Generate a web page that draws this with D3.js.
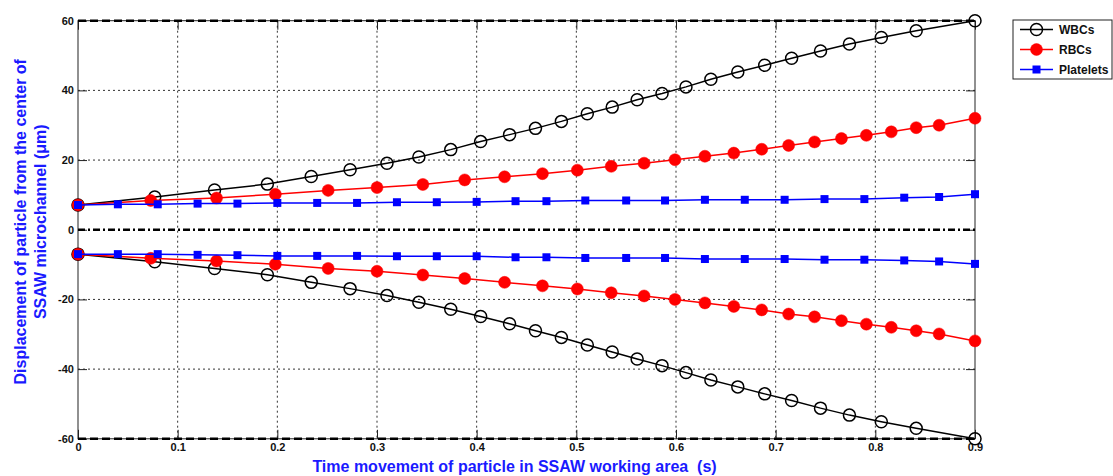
<!DOCTYPE html>
<html>
<head>
<meta charset="utf-8">
<script src="https://cdn.jsdelivr.net/npm/d3@7"></script>
<style>
  body { margin: 0; background: #fff; }
  svg { display: block; font-family: "Liberation Sans", Arial, sans-serif; }
</style>
</head>
<body>
<script>
// time points (s) and displacements (um)
const timesWBC = [0, 0.077, 0.137, 0.190, 0.234, 0.273, 0.310, 0.342, 0.374, 0.404, 0.433, 0.459, 0.485, 0.511,
  0.536, 0.561, 0.586, 0.610, 0.635, 0.662, 0.689, 0.716, 0.745, 0.774, 0.806, 0.841, 0.900];
const wbcUpper = [7.1, 9.4, 11.4, 13.1, 15.3, 17.2, 19.1, 20.9, 23.0, 25.3, 27.3, 29.1, 31.1, 33.3,
  35.2, 37.3, 39.1, 41.0, 43.2, 45.3, 47.2, 49.2, 51.3, 53.3, 55.2, 57.1, 60.0];
const wbcLower = [-7.0, -9.2, -11.1, -12.9, -15.1, -16.9, -18.9, -20.8, -22.8, -24.9, -27.0, -29.0, -30.9, -33.1,
  -35.1, -37.1, -39.0, -41.0, -43.1, -45.1, -47.1, -49.0, -51.2, -53.2, -55.1, -57.0, -60.0];

const timesRBC = [0, 0.073, 0.139, 0.198, 0.251, 0.300, 0.346, 0.388, 0.428, 0.466, 0.501, 0.535, 0.568,
  0.599, 0.629, 0.658, 0.686, 0.713, 0.739, 0.766, 0.791, 0.816, 0.841, 0.864, 0.900];
const rbcUpper = [7.1, 8.4, 9.1, 10.2, 11.3, 12.1, 13.0, 14.3, 15.2, 16.1, 17.1, 18.2, 19.1,
  20.1, 21.1, 22.0, 23.1, 24.2, 25.2, 26.2, 27.1, 28.1, 29.3, 30.0, 32.0];
const rbcLower = [-7.0, -8.2, -9.0, -9.9, -11.1, -11.9, -13.0, -14.0, -15.1, -16.1, -17.0, -18.1, -19.0,
  -20.0, -21.0, -22.0, -23.0, -24.2, -25.0, -26.1, -27.1, -28.0, -29.0, -29.9, -31.9];

const timesPlt = [0, 0.040, 0.080, 0.120, 0.160, 0.200, 0.240, 0.280, 0.320, 0.360, 0.400, 0.439,
  0.470, 0.509, 0.550, 0.589, 0.629, 0.669, 0.709, 0.749, 0.789, 0.829, 0.864, 0.900];
const pltUpper = [7.1, 7.3, 7.3, 7.5, 7.5, 7.7, 7.7, 7.7, 7.9, 7.9, 8.0, 8.2,
  8.2, 8.4, 8.4, 8.4, 8.6, 8.6, 8.6, 8.8, 8.8, 9.2, 9.4, 10.2];
const pltLower = [-7.0, -7.0, -7.0, -7.2, -7.3, -7.5, -7.5, -7.5, -7.6, -7.6, -7.6, -7.9,
  -7.9, -8.1, -8.1, -8.1, -8.4, -8.4, -8.4, -8.6, -8.6, -8.8, -9.1, -9.8];

const xTicks = [0, 0.1, 0.2, 0.3, 0.4, 0.5, 0.6, 0.7, 0.8, 0.9];
const yTicks = [-60, -40, -20, 0, 20, 40, 60];
const legendNames = ['WBCs', 'RBCs', 'Platelets'];

const width = 1113;
const height = 476;
const margin = { top: 20.7, bottom: 37.2, right: 138, left: 78 };

const svg = d3.select('body')
  .append('svg')
  .attr('width', width)
  .attr('height', height);

const x = d3.scaleLinear()
  .domain([0, 0.9])
  .range([margin.left, width - margin.right]);

const y = d3.scaleLinear()
  .domain([-60, 60])
  .range([height - margin.bottom, margin.top]);

// grid
const grid = svg.append('g')
  .attr('stroke', '#333')
  .attr('stroke-width', 1)
  .attr('stroke-dasharray', '2,3');
grid.selectAll('.gx')
  .data(xTicks.slice(1, -1))
  .join('line')
  .attr('x1', d => x(d)).attr('x2', d => x(d))
  .attr('y1', margin.top).attr('y2', height - margin.bottom);
grid.selectAll('.gy')
  .data(yTicks.filter(d => Math.abs(d) !== 60 && d !== 0))
  .join('line')
  .attr('x1', margin.left).attr('x2', width - margin.right)
  .attr('y1', d => y(d)).attr('y2', d => y(d));

// axes, ticks pointing inward
const fmtX = d => d === 0 ? '0' : d3.format('.1f')(d);
const fmtY = d => String(d);
const styleAxis = g => {
  g.select('.domain').remove();
  g.selectAll('line').attr('stroke', '#222');
  g.selectAll('text')
    .style('font-size', '11px')
    .style('font-weight', 'bold')
    .attr('fill', '#111');
};

svg.append('g')
  .attr('transform', `translate(0, ${height - margin.bottom})`)
  .call(d3.axisBottom(x).tickValues(xTicks).tickFormat(fmtX).tickSize(-9).tickPadding(4))
  .call(styleAxis);
svg.append('g')
  .attr('transform', `translate(0, ${margin.top})`)
  .call(d3.axisTop(x).tickValues(xTicks).tickFormat('').tickSize(-9))
  .call(styleAxis);
svg.append('g')
  .attr('transform', `translate(${margin.left}, 0)`)
  .call(d3.axisLeft(y).tickValues(yTicks).tickFormat(fmtY).tickSize(-9).tickPadding(4))
  .call(styleAxis);
svg.append('g')
  .attr('transform', `translate(${width - margin.right}, 0)`)
  .call(d3.axisRight(y).tickValues(yTicks).tickFormat('').tickSize(-9))
  .call(styleAxis);

// box
svg.append('rect')
  .attr('x', margin.left)
  .attr('y', margin.top)
  .attr('width', width - margin.left - margin.right)
  .attr('height', height - margin.top - margin.bottom)
  .attr('fill', 'none')
  .attr('stroke', '#222')
  .attr('stroke-width', 1);

// channel walls (+-60) and centre line
svg.selectAll('.wall')
  .data([60, -60])
  .join('line')
  .attr('x1', margin.left).attr('x2', width - margin.right)
  .attr('y1', d => y(d)).attr('y2', d => y(d))
  .attr('stroke', '#000')
  .attr('stroke-width', 2.5)
  .attr('stroke-dasharray', '8,4');
svg.append('line')
  .attr('x1', margin.left).attr('x2', width - margin.right)
  .attr('y1', y(0)).attr('y2', y(0))
  .attr('stroke', '#000')
  .attr('stroke-width', 2.5)
  .attr('stroke-dasharray', '7,3,2,3');

// series
const line = d3.line().x(d => x(d[0])).y(d => y(d[1]));
const zipSeries = (ts, vs) => ts.map((t, i) => [t, vs[i]]);

const series = [
  { name: 'WBCs', color: '#000', pts: [zipSeries(timesWBC, wbcUpper), zipSeries(timesWBC, wbcLower)] },
  { name: 'RBCs', color: '#ff0000', pts: [zipSeries(timesRBC, rbcUpper), zipSeries(timesRBC, rbcLower)] },
  { name: 'Platelets', color: '#0000ff', pts: [zipSeries(timesPlt, pltUpper), zipSeries(timesPlt, pltLower)] }
];

function drawMarker(sel, name) {
  if (name === 'WBCs') {
    sel.append('circle').attr('r', 6).attr('fill', 'none').attr('stroke', '#000').attr('stroke-width', 1.5);
  } else if (name === 'RBCs') {
    sel.append('circle').attr('r', 6).attr('fill', '#ff0000').attr('stroke', '#ff0000').attr('stroke-width', 0.5);
  } else {
    sel.append('rect').attr('x', -4).attr('y', -4).attr('width', 8).attr('height', 8).attr('fill', '#0000ff');
  }
}

series.forEach(s => {
  s.pts.forEach(pts => {
    svg.append('path')
      .datum(pts)
      .attr('d', line)
      .attr('fill', 'none')
      .attr('stroke', s.color)
      .attr('stroke-width', 1.5);
    svg.append('g')
      .selectAll('g')
      .data(pts)
      .join('g')
      .attr('transform', d => `translate(${x(d[0])}, ${y(d[1])})`)
      .each(function() { drawMarker(d3.select(this), s.name); });
  });
});

// legend
const legend = svg.append('g').attr('transform', 'translate(1013, 20)');
legend.append('rect')
  .attr('width', 99).attr('height', 59)
  .attr('fill', '#fff').attr('stroke', '#222').attr('stroke-width', 1);
legendNames.forEach((name, i) => {
  const s = series.find(d => d.name === name);
  const row = legend.append('g').attr('transform', `translate(0, ${9.5 + i * 20})`);
  row.append('line')
    .attr('x1', 7).attr('x2', 40)
    .attr('stroke', s.color).attr('stroke-width', 1.5);
  drawMarker(row.append('g').attr('transform', 'translate(23.5, 0)'), name);
  row.append('text')
    .attr('x', 46).attr('dy', '0.35em')
    .style('font-size', '12px')
    .style('font-weight', 'bold')
    .attr('fill', '#111')
    .text(name);
});

// axis titles
svg.append('text')
  .attr('x', margin.left + (width - margin.left - margin.right) / 2 - 12)
  .attr('y', height - 4)
  .attr('text-anchor', 'middle')
  .attr('fill', '#1a1aff')
  .style('font-size', '16px')
  .style('font-weight', 'bold')
  .style('white-space', 'pre')
  .text('Time movement of particle in SSAW working area  (s)');

const yTitle = svg.append('text')
  .attr('transform', `translate(26, ${y(0) - 8}) rotate(-90)`)
  .attr('text-anchor', 'middle')
  .attr('fill', '#1a1aff')
  .style('font-size', '16px')
  .style('font-weight', 'bold');
yTitle.append('tspan').attr('x', 0).attr('y', 0).text('Displacement of particle from the center of');
yTitle.append('tspan').attr('x', 0).attr('y', 20).text('SSAW microchannel (\u03bcm)');
</script>
</body>
</html>
